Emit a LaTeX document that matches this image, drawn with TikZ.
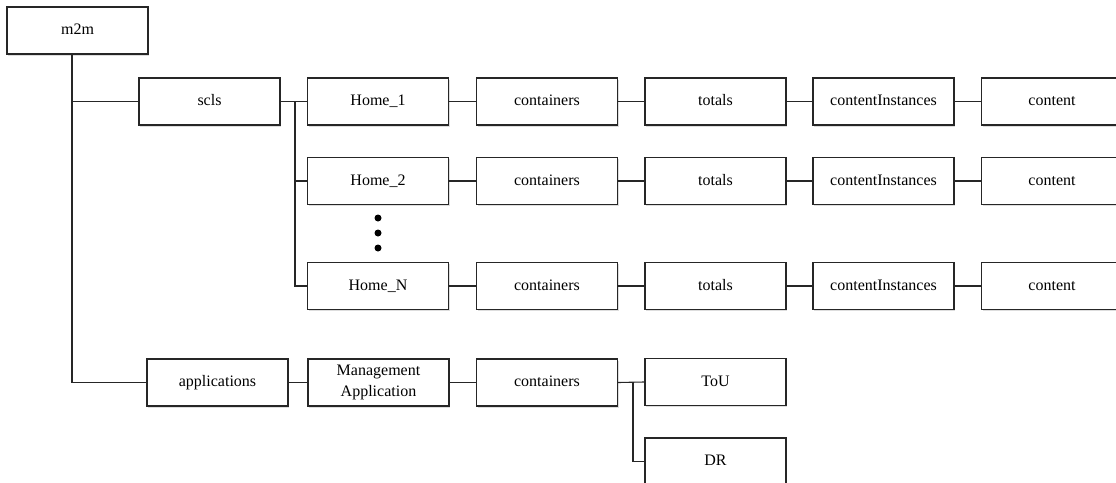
\documentclass[tikz,border=0pt]{standalone}
\usepackage{fontspec}
\setmainfont{Liberation Serif}
\usetikzlibrary{shadows}
\begin{document}
\begin{tikzpicture}[x=1pt,y=-1pt,
  box/.style={draw=black!85, line width=1.1pt, fill=white, minimum width=141pt,
    minimum height=47pt, inner sep=0pt, align=center,
    font=\fontsize{16}{20.5}\selectfont, text height=11pt, text depth=3pt,
    drop shadow={shadow xshift=1.2pt, shadow yshift=-1.6pt, fill=black!22, opacity=0.6}},
  wire/.style={line width=1.1pt, draw=black!85},
  dotmark/.style={circle, fill=black, inner sep=0pt, minimum size=7pt}]
\useasboundingbox (0,0) rectangle (1116,482);
\clip (0,0) rectangle (1116,482);

% root and first level
\node[box] (m2m) at (77.5,30.5) {m2m};
\node[box] (scls) at (209.5,101.5) {scls};
\node[box] (apps) at (217.5,382.5) {applications};

% home rows
\node[box] (h1) at (378,101.5) {Home\_1};
\node[box] (h2) at (378,181) {Home\_2};
\node[box] (hn) at (378,286) {Home\_N};

\foreach \r/\y in {1/101.5, 2/181, n/286} {
  \node[box] (c\r) at (547,\y) {containers};
  \node[box] (t\r) at (715.5,\y) {totals};
  \node[box] (ci\r) at (883.5,\y) {contentInstances};
  \node[box] (ct\r) at (1052,\y) {content};
}

% vertical ellipsis between Home_2 and Home_N
\node[dotmark] (d1) at (378,218) {};
\node[dotmark] (d2) at (378,233) {};
\node[dotmark] (d3) at (378,248) {};

% applications branch
\node[box, text height=, text depth=] (mgmt) at (378.5,382.5) {Management\\Application};
\node[box] (ac) at (547,382.5) {containers};
\node[box] (tou) at (715.5,382) {ToU};
\node[box] (dr) at (715.5,461.5) {DR};

% tree connectors
\coordinate (rootx) at (72,0);
\coordinate (sclsx) at (295,0);
\coordinate (accx) at (633,0);

\draw[wire] (m2m.south -| rootx) |- (scls.west);
\draw[wire] (m2m.south -| rootx) |- (apps.west);

\draw[wire] (scls.east) -- (h1.west);
\draw[wire] (scls.east -| sclsx) |- (h2.west);
\draw[wire] (scls.east -| sclsx) |- (hn.west);

\foreach \r in {1,2,n} {
  \draw[wire] (c\r.east) -- (t\r.west);
  \draw[wire] (t\r.east) -- (ci\r.west);
  \draw[wire] (ci\r.east) -- (ct\r.west);
}
\draw[wire] (h1.east) -- (c1.west);
\draw[wire] (h2.east) -- (c2.west);
\draw[wire] (hn.east) -- (cn.west);

\draw[wire] (apps.east) -- (mgmt.west);
\draw[wire] (mgmt.east) -- (ac.west);
\draw[wire] (ac.east) -- (tou.west);
\draw[wire] (ac.east -| accx) |- (dr.west);
\end{tikzpicture}
\end{document}
